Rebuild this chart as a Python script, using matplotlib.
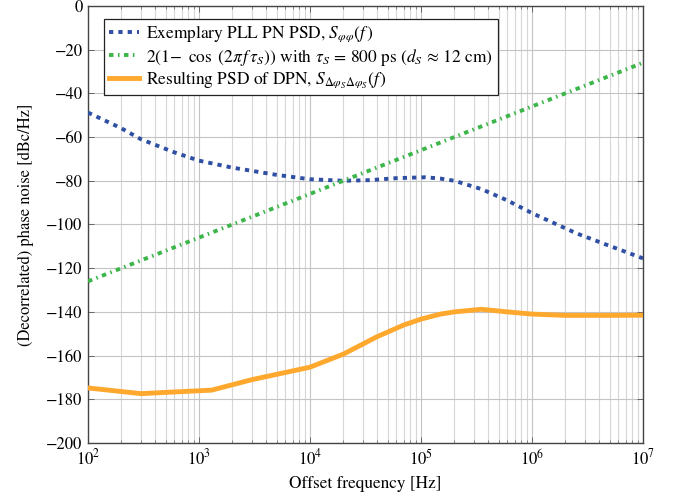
import numpy as np
import matplotlib
matplotlib.use("Agg")
import matplotlib.pyplot as plt
from matplotlib.ticker import LogLocator, FixedLocator, NullFormatter

plt.rcParams["font.family"] = ["STIXGeneral", "DejaVu Serif"]
plt.rcParams["mathtext.fontset"] = "stix"
plt.rcParams["axes.unicode_minus"] = True

# PLL phase-noise PSD [dBc/Hz]
pll_freq = [1e2, 2e2, 3e2, 6e2, 1e3, 2e3, 5e3, 1e4, 2e4, 3.5e4, 6e4, 1.1e5,
            1.5e5, 2e5, 3.5e5, 6e5, 1e6, 2.5e6, 5e6, 1e7]
pll_psd = [-48.8, -56.0, -61.0, -67.0, -70.8, -74.0, -77.3, -79.3, -80.0, -79.7,
           -78.8, -78.4, -79.0, -80.0, -83.8, -89.0, -94.8, -104.0, -109.8, -115.5]

# Decorrelation transfer function 2(1 - cos(2 pi f tau_S)) [dB]
dec_freq = [1e2, 1e3, 1e4, 1e5, 1e6, 1e7]
dec_gain = [-126.0, -106.0, -86.0, -66.0, -46.0, -26.0]

# Resulting PSD of the decorrelated phase noise [dBc/Hz]
dpn_freq = [1e2, 3e2, 1.3e3, 3e3, 1e4, 2e4, 4e4, 7e4, 1e5, 1.5e5, 2e5, 3.5e5,
            6e5, 1e6, 2e6, 5e6, 1e7]
dpn_psd = [-174.8, -177.4, -175.8, -171.0, -165.3, -159.3, -151.4, -146.0, -143.3,
           -141.0, -140.0, -138.8, -140.0, -141.0, -141.6, -141.6, -141.5]

y_ticks = list(range(-200, 1, 20))
x_ticks = [1e2, 1e3, 1e4, 1e5, 1e6, 1e7]

fig = plt.figure(figsize=(6.78, 4.95), dpi=100)
ax = fig.add_axes([0.1298, 0.105, 0.8186, 0.883])

blue = "#2e4fa3"
green = "#3cb54a"
orange = "#ffa82e"

ax.plot(pll_freq, pll_psd, color=blue, lw=2.8, dashes=(1.1, 1.3),
        dash_capstyle="butt",
        label=r"Exemplary PLL PN PSD, $S_{\varphi\varphi}(f\,)$", zorder=3)
ax.plot(dec_freq, dec_gain, color=green, lw=2.8, dashes=(1.15, 1.15, 0.4, 1.15),
        dash_capstyle="butt",
        label=r"$2(1\!-\ \cos\ (2\pi\, f\,\tau_S))$ with $\tau_S\, =\, 800$ ps ($d_S \,\approx\, 12$ cm)",
        zorder=3)
ax.plot(dpn_freq, dpn_psd, color=orange, lw=3.5, solid_joinstyle="round",
        label=r"Resulting PSD of DPN, $S_{\Delta\varphi_S\Delta\varphi_S}(f\,)$", zorder=3)

ax.set_xscale("log")
ax.set_xlim(1e2, 1e7)
ax.set_ylim(-200, 0)
ax.xaxis.set_major_locator(FixedLocator(x_ticks))
ax.xaxis.set_minor_locator(LogLocator(base=10, subs=np.arange(2, 10), numticks=20))
ax.xaxis.set_minor_formatter(NullFormatter())
ax.set_yticks(y_ticks)

ax.grid(True, which="major", color="#c4c4c4", lw=0.8, zorder=0)
ax.grid(True, which="minor", axis="x", color="#d6d6d6", lw=0.8, zorder=0)
ax.set_axisbelow(True)

for s in ax.spines.values():
    s.set_color("#444444")
    s.set_linewidth(1.0)

ax.tick_params(which="major", direction="in", length=4, width=0.7, color="#666666",
               top=True, right=True, labelsize=12, pad=4)
ax.tick_params(which="minor", direction="in", length=2.5, width=0.6, color="#777777",
               top=True, right=True)

ax.set_xlabel("Offset frequency [Hz]", fontsize=12.4, labelpad=5)
ax.set_ylabel("(Decorrelated) phase noise [dBc/Hz]", fontsize=11.9, labelpad=9)

leg = ax.legend(loc="upper left", bbox_to_anchor=(0.029, 0.971), fontsize=12.5,
                frameon=True, fancybox=False, edgecolor="#222222", framealpha=1,
                handlelength=1.7, handletextpad=0.4, labelspacing=0.12,
                borderpad=0.3, borderaxespad=0.0)
leg.get_frame().set_linewidth(0.9)

fig.savefig("out.png", dpi=100)
